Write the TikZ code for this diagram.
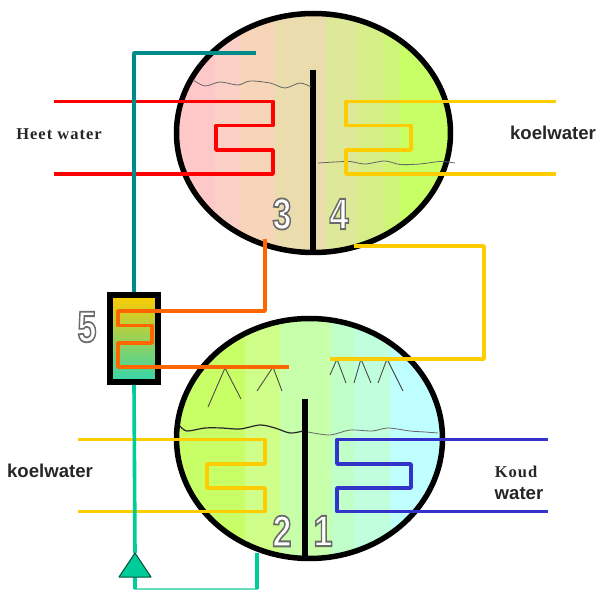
\documentclass[tikz,border=0pt]{standalone}
\usepackage{fontspec}
\setmainfont{Liberation Serif}
\setsansfont{Liberation Sans}
\definecolor{tealpipe}{HTML}{008B8B}
\definecolor{greenpipe}{HTML}{00CC99}
\definecolor{lightpipe}{HTML}{66DDBB}
\definecolor{redpipe}{HTML}{FF0000}
\definecolor{yellowpipe}{HTML}{FFCC00}
\definecolor{orangepipe}{HTML}{FF6600}
\definecolor{bluepipe}{HTML}{3333CC}
\tikzset{
	pipe/.style={line width=3.6pt,line join=round},
	spray/.style={line width=0.9pt,black!70},
	level/.style={line width=0.8pt,black!60},
	wall/.style={line width=5.5pt},
	digit/.style={font=\sffamily\bfseries\fontsize{44}{44}\selectfont,xscale=0.78,transform shape},
	sanslabel/.style={font=\sffamily\bfseries\fontsize{18.6}{20}\selectfont,text=black!85},
	seriflabel/.style={font=\rmfamily\bfseries\fontsize{16.5}{18}\selectfont\addfontfeature{LetterSpace=6},text=black!85}
}
\newcommand{\outlined}[1]{\special{pdf:code q 2 Tr 1.8 w 0.42 G 1 g}#1\special{pdf:code Q}}
\begin{document}
\begin{tikzpicture}[x=1pt,y=-1pt]
		\useasboundingbox (0,0) rectangle (598,591);
		\begin{scope}
			\clip (313.5,133) ellipse [x radius=137,y radius=119.5];
			\foreach \xa/\xb/\col in {170/215/FFC8C8,215/240/F9CFC6,240/275/F6D5B8,275/326/EBDCAE,326/358/DDE898,358/383/D6EE88,383/400/CEF578,400/456/C8FF66}
				{\definecolor{band}{HTML}{\col}
				\fill [band] (\xa,0) rectangle (\xb,270);}
		\end{scope}
		\begin{scope}
			\clip (309.5,438.5) ellipse [x radius=133,y radius=120];
			\foreach \xa/\xb/\col in {170/245/C8FF66,245/280/CFFF88,280/331/C8FFAA,331/354/C0FFC8,354/391/C0FFDD,391/448/C0FFFF}
				{\definecolor{band}{HTML}{\col}
				\fill [band] (\xa,300) rectangle (\xb,570);}
		\end{scope}
		\draw [wall] (313.5,133) ellipse [x radius=137,y radius=119.5];
		\draw [wall] (309.5,438.5) ellipse [x radius=133,y radius=120];
		\draw [wall] (313,70)--(313,250);
		\draw [wall] (305,399)--(305,557);
		% liquid levels
		\draw [level] plot [smooth] coordinates {(193,80)(205,86)(220,82)(238,85)(250,81)(270,83)(285,88)(300,83)(311,87)};
		\draw [level] plot [smooth] coordinates {(318,163)(335,162)(350,161.5)(365,164)(385,161)(400,164.5)(420,164)(440,161.5)(455,163)};
		\draw [line width=1.2pt,black!85] plot [smooth] coordinates {(180,426)(187,431)(205,428)(222,428)(240,429)(260,425)(275,428)(290,433)(303,431)};
		\draw [level] plot [smooth] coordinates {(308,432)(330,435)(350,430)(372,431)(388,428)(410,431)(425,432)(438,433)};
		% sprays
		\draw [spray] (208,407)--(225,368)--(241,399);
		\draw [spray] (257,391)--(273,367)--(282,391);
		\draw [spray] (330,375)--(337,359)--(346,383);
		\draw [spray] (354,383)--(361,359)--(371,383);
		\draw [spray] (378,383)--(387,359)--(403,391);
		% coils
		\draw [pipe,redpipe] (54,101.5)--(273,101.5)--(273,125.5)--(216,125.5)--(216,150)--(273,150)--(273,174)--(54,174);
		\draw [pipe,yellowpipe] (556,101.5)--(346,101.5)--(346,125.5)--(411,125.5)--(411,150)--(346,150)--(346,174)--(556,174);
		\draw [pipe,yellowpipe] (78,439.5)--(265,439.5)--(265,464)--(207,464)--(207,488)--(265,488)--(265,511.5)--(78,511.5);
		\draw [pipe,bluepipe] (548,439.5)--(337,439.5)--(337,464)--(411,464)--(411,488)--(337,488)--(337,511.5)--(548,511.5);
		\draw [pipe,yellowpipe] (354,246)--(484,246)--(484,359)--(330,359);
		% condenser 5
		\node [draw,line width=6pt,minimum width=48pt,minimum height=87pt,inner sep=0pt,
			shade,top color=yellowpipe,middle color=yellowpipe!50!greenpipe,bottom color=greenpipe!80!white] (condenser) at (134,338.5) {};
		\coordinate (steamend) at (256,53);
		\coordinate (pumptop) at (135,553);
		\coordinate (pumpleft) at (119,577);
		\coordinate (pumpright) at (151,577);
		\coordinate (pumpbase) at (135,577);
		\coordinate (returnup) at (257,553);
		\draw [pipe,tealpipe] (steamend)-|(condenser.north);
		\draw [pipe,greenpipe] (condenser.south)--(pumptop);
		\draw [line width=2pt,lightpipe] (pumpbase)--(135,589)--(257,589)--(returnup);
		\draw [pipe,greenpipe] (pumpbase)--(135,589);
		\draw [pipe,greenpipe] (257,589)--(returnup);
		\filldraw [line width=1pt,draw=black!60!greenpipe,fill=greenpipe,line join=round] (pumptop)--(pumpright)--(pumpleft)--cycle;
		\draw [pipe,orangepipe] (265,239)--(265,311)--(118,311)--(118,325.5)--(152,325.5)--(152,343)--(118,343)--(118,367)--(289,367);
		% labels
		\node [seriflabel] (heetlabel) at (59,134) {Heet water};
		\node [sanslabel] (koelrechts) at (553,133) {koelwater};
		\node [sanslabel] (koellinks) at (50,471) {koelwater};
		\node [seriflabel] (koudlabel) at (516,472) {Koud};
		\node [sanslabel] (waterlabel) at (519,494) {water};
		\node [digit] (nummer3) at (282,214) {\outlined{3}};
		\node [digit] (nummer4) at (339,214) {\outlined{4}};
		\node [digit] (nummer5) at (87,327) {\outlined{5}};
		\node [digit] (nummer2) at (282,531) {\outlined{2}};
		\node [digit] (nummer1) at (323,531) {\outlined{1}};
	\end{tikzpicture}
\end{document}
